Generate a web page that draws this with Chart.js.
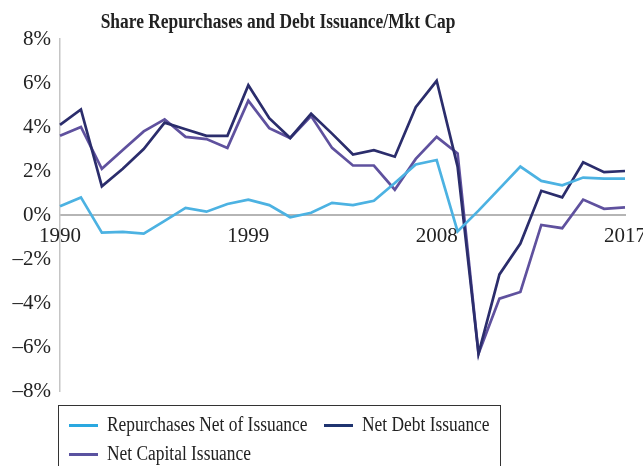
<!DOCTYPE html>
<html>
<head>
<meta charset="utf-8">
<script src="https://cdn.jsdelivr.net/npm/chart.js@4"></script>
<style>
  body { margin: 0; background: #fff; }
  #wrap { position: relative; width: 643px; height: 466px; overflow: hidden; }
  #legend {
    position: absolute; left: 58px; top: 405px; width: 441px; height: 80px;
    border: 1.5px solid #333; font-family: "Liberation Serif", serif; font-size: 20px; color: #222;
  }
  .item { position: absolute; white-space: nowrap; }
  .item span { display: inline-block; width: 29px; height: 3px; vertical-align: middle; margin-right: 9px; position: relative; top: -1px; }
  .item b { font-weight: normal; display: inline-block; transform: scaleX(0.87); transform-origin: left center; }
</style>
</head>
<body>
<div id="wrap">
  <canvas id="chart"></canvas>
  <div id="legend">
    <div class="item" style="left:10px; top:7px"><span style="background:#2aa8e0"></span><b>Repurchases Net of Issuance</b></div>
    <div class="item" style="left:265px; top:7px"><span style="background:#1f3470"></span><b>Net Debt Issuance</b></div>
    <div class="item" style="left:10px; top:36px"><span style="background:#5a52a0"></span><b>Net Capital Issuance</b></div>
  </div>
</div>
<script>
const years = [1990, 1991, 1992, 1993, 1994, 1995, 1996, 1997, 1998, 1999, 2000, 2001, 2002, 2003,
  2004, 2005, 2006, 2007, 2008, 2009, 2010, 2011, 2012, 2013, 2014, 2015, 2016, 2017];
const shownYears = [1990, 1999, 2008, 2017];
const yTicks = [-8, -6, -4, -2, 0, 2, 4, 6, 8];

const repurchases = [0.4, 0.8, -0.8, -0.77, -0.85, -0.27, 0.32, 0.15, 0.5, 0.7, 0.45, -0.1, 0.1, 0.55,
  0.45, 0.65, 1.45, 2.3, 2.5, -0.75, 0.2, 1.2, 2.2, 1.55, 1.35, 1.7, 1.65, 1.65];
const netDebt = [4.1, 4.8, 1.3, 2.1, 3.0, 4.2, 3.9, 3.6, 3.6, 5.9, 4.4, 3.5, 4.6, 3.7,
  2.75, 2.95, 2.65, 4.9, 6.1, 2.2, -6.3, -2.7, -1.3, 1.1, 0.8, 2.4, 1.95, 2.0];
const netCapital = [3.6, 4.0, 2.1, 2.95, 3.8, 4.35, 3.55, 3.45, 3.05, 5.2, 3.95, 3.5, 4.5, 3.05,
  2.25, 2.25, 1.15, 2.55, 3.55, 2.8, -6.3, -3.8, -3.5, -0.45, -0.6, 0.7, 0.28, 0.35];

const titleText = "Share Repurchases and Debt Issuance/Mkt Cap";
const serif = "'Liberation Serif', 'Times New Roman', serif";

// title is off-centre and narrow in the original, so draw it by hand
const titlePlugin = {
  id: 'titleText',
  afterDraw(chart) {
    const ctx = chart.ctx;
    ctx.save();
    ctx.font = "bold 20px " + serif;
    ctx.fillStyle = "#222";
    ctx.textAlign = "center";
    ctx.textBaseline = "alphabetic";
    ctx.translate(278, 28);
    ctx.scale(0.87, 1);
    ctx.fillText(titleText, 0, 0);
    ctx.restore();
  }
};

new Chart(document.getElementById("chart"), {
  type: 'line',
  data: {
    labels: years,
    datasets: [
      { label: 'Repurchases Net of Issuance', data: repurchases, borderColor: '#4cb2e2', borderWidth: 2.7 },
      { label: 'Net Debt Issuance', data: netDebt, borderColor: '#2b2d6c', borderWidth: 2.7 },
      { label: 'Net Capital Issuance', data: netCapital, borderColor: '#5f519e', borderWidth: 2.7 }
    ]
  },
  options: {
    responsive: true,
    maintainAspectRatio: false,
    animation: false,
    layout: { padding: { top: 39, right: 18, bottom: 75, left: 0 } },
    elements: { point: { radius: 0 }, line: { tension: 0 } },
    plugins: { legend: { display: false }, title: { display: false }, tooltip: { enabled: false } },
    scales: {
      x: {
        position: { y: 0 },
        grid: { display: false, drawTicks: false },
        border: { color: '#b5b5b5', width: 2 },
        ticks: {
          autoSkip: false, maxRotation: 0, padding: 9, color: '#222',
          font: { family: serif, size: 21 },
          callback: (v, i) => shownYears.includes(years[i]) ? String(years[i]) : ''
        },
        afterFit: s => { s.height = 0; s.paddingLeft = 0; s.paddingRight = 0; }
      },
      y: {
        min: -8, max: 8,
        grid: { display: false, drawTicks: false },
        border: { color: '#c5c5c5', width: 1.5 },
        afterBuildTicks: s => { s.ticks = yTicks.map(v => ({ value: v })); },
        ticks: {
          padding: 9, color: '#222',
          font: { family: serif, size: 21 },
          callback: v => (v < 0 ? '\u2013' + (-v) : v) + '%'
        },
        afterFit: s => { s.width = 60; }
      }
    }
  },
  plugins: [titlePlugin]
});
</script>
</body>
</html>
